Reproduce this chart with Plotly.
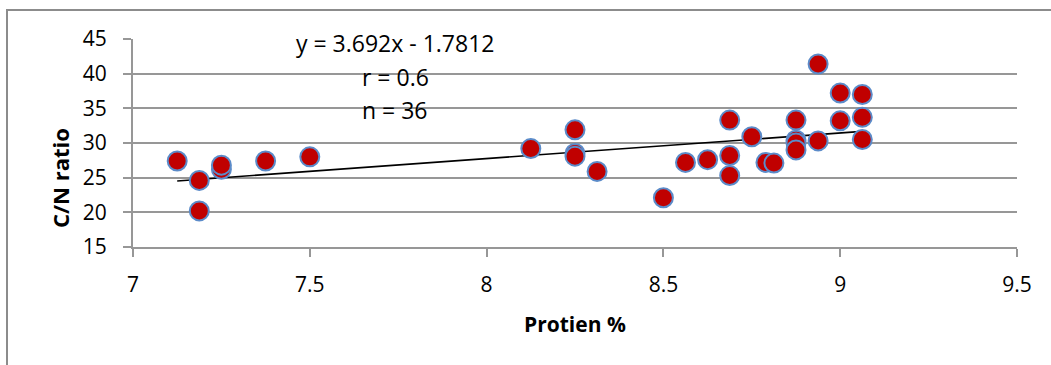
import plotly.graph_objects as go

# Data
protein = [7.125, 7.1875, 7.1875, 7.25, 7.25, 7.375, 7.5,
           8.125, 8.25, 8.25, 8.25, 8.3125, 8.5, 8.5625, 8.625,
           8.6875, 8.6875, 8.6875, 8.75, 8.79, 8.8125,
           8.875, 8.875, 8.875, 8.875, 8.9375, 8.9375,
           9.0, 9.0, 9.0625, 9.0625, 9.0625]
cn_ratio = [27.4, 24.6, 20.2, 26.2, 26.8, 27.4, 28.0,
            29.2, 31.9, 28.5, 28.1, 25.9, 22.1, 27.2, 27.6,
            33.3, 28.2, 25.3, 30.9, 27.2, 27.1,
            33.3, 30.4, 30.0, 29.0, 41.4, 30.3,
            37.2, 33.2, 37.0, 33.7, 30.5]
slope = 3.692
intercept = -1.7812
eq_lines = ["y = 3.692x - 1.7812", "r = 0.6", "n = 36"]

FONT = "Open Sans"

trend_x = [min(protein), max(protein)]
trend_y = [slope * v + intercept for v in trend_x]

fig = go.Figure()
fig.add_trace(go.Scatter(x=trend_x, y=trend_y, mode="lines",
                         line=dict(color="black", width=1.6),
                         showlegend=False, hoverinfo="skip"))
fig.add_trace(go.Scatter(x=protein, y=cn_ratio, mode="markers",
                         marker=dict(size=19, color="#C00000",
                                     line=dict(color="#5B8BC9", width=2)),
                         showlegend=False))

W, H = 1051, 365
L, R, T, B = 133, 34, 39, 118
pw, ph = W - L - R, H - T - B

def px(xp):
    return (xp - L) / pw

def py(yp):
    return (H - B - yp) / ph

fig.update_layout(
    width=W, height=H,
    margin=dict(l=L, r=R, t=T, b=B, pad=0),
    paper_bgcolor="white", plot_bgcolor="white",
    font=dict(family=FONT, size=21, color="black"),
    xaxis=dict(range=[7, 9.5], dtick=0.5, tick0=7, showgrid=False,
               showline=True, linecolor="#979797", linewidth=2,
               ticks="outside", ticklen=8, tickcolor="#979797", tickwidth=2,
               ticklabelstandoff=10, zeroline=False,
               tickfont=dict(family=FONT, size=21, color="black")),
    yaxis=dict(range=[15, 45], dtick=5, tick0=15, showgrid=True,
               gridcolor="#979797", gridwidth=2,
               showline=True, linecolor="#979797", linewidth=2,
               ticks="outside", ticklen=8, tickcolor="#979797", tickwidth=2,
               ticklabelstandoff=12, zeroline=False,
               tickfont=dict(family=FONT, size=21, color="black")),
    shapes=[dict(type="rect", xref="paper", yref="paper",
                 x0=px(7), x1=px(1070), y0=py(390), y1=py(10),
                 line=dict(color="#8C8C8C", width=2), layer="below")],
    annotations=[
        dict(text="<b>C/N ratio</b>", xref="paper", yref="paper",
             x=px(60), y=py(178), xanchor="center", yanchor="middle",
             textangle=-90, showarrow=False,
             font=dict(family=FONT, size=22, color="black")),
        dict(text="<b>Protien %</b>", xref="paper", yref="paper",
             x=px(575), y=py(324), xanchor="center", yanchor="middle",
             showarrow=False,
             font=dict(family=FONT, size=21, color="black")),
    ] + [
        dict(text=t, xref="paper", yref="paper", x=px(395), y=py(yc),
             xanchor="center", yanchor="middle",
             showarrow=False, font=dict(family=FONT, size=23, color="black"))
        for t, yc in zip(eq_lines, [43, 77, 110])
    ],
)

fig.write_html("out.html", config={"displayModeBar": False},
               post_script="document.body.style.margin='0';")
